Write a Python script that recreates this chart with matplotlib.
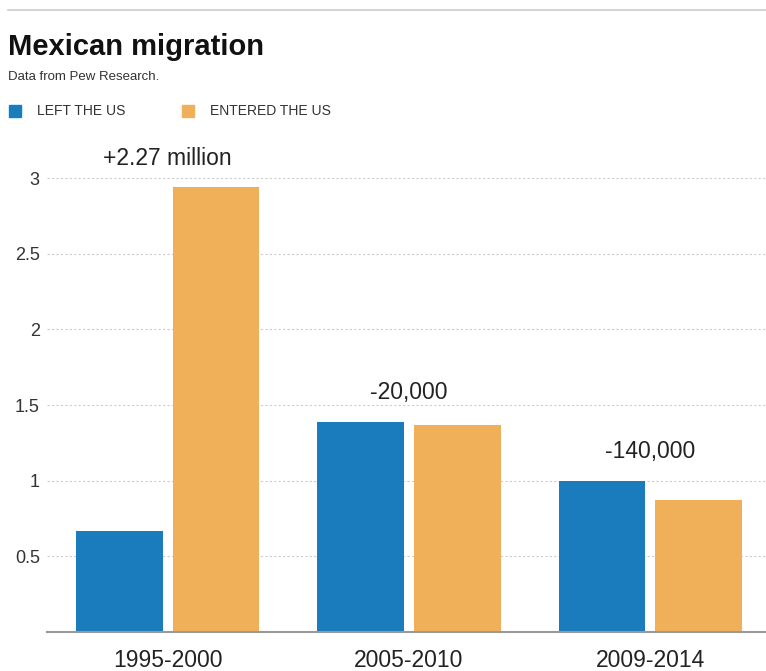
import matplotlib.pyplot as plt
import numpy as np

periods = ['1995-2000', '2005-2010', '2009-2014']
left_us = [0.67, 1.39, 1.00]
entered_us = [2.94, 1.37, 0.87]
net_labels = ['+2.27 million', '-20,000', '-140,000']

blue = '#1a7bbd'
orange = '#f0b05a'
plt.rcParams['font.family'] = ['Liberation Sans', 'DejaVu Sans']

fig = plt.figure(figsize=(7.66, 6.71), dpi=100)
ax = fig.add_axes([0.061, 0.058, 0.939, 0.733])

x = np.arange(len(periods))
w = 0.36
ax.bar(x - 0.2, left_us, width=w, color=blue, zorder=2)
ax.bar(x + 0.2, entered_us, width=w, color=orange, zorder=2)

for i, lab in enumerate(net_labels):
    top = max(left_us[i], entered_us[i])
    ax.text(x[i], top + 0.19, lab, ha='center', va='center', fontsize=16.5, color='#222222')

ax.set_xlim(-0.502, 2.48)
ax.set_ylim(0, 3.25)
ax.set_yticks([0.5, 1, 1.5, 2, 2.5, 3])
ax.set_yticklabels(['0.5', '1', '1.5', '2', '2.5', '3'])
ax.set_xticks(x)
ax.set_xticklabels(periods, fontsize=16.5, color='#222222')
ax.tick_params(axis='y', length=0, labelsize=13, labelcolor='#333333', pad=5)
ax.tick_params(axis='x', length=0, pad=12)
ax.grid(axis='y', linestyle=(0, (2, 2)), color='#cccccc', linewidth=0.8, zorder=0)
for s in ['top', 'right', 'left']:
    ax.spines[s].set_visible(False)
ax.spines['bottom'].set_color('#999999')
ax.spines['bottom'].set_linewidth(1.5)

# header
fig.add_artist(plt.Line2D([0.01, 1.0], [0.985, 0.985], color='#cccccc', linewidth=1.2))
fig.text(0.011, 0.93, 'Mexican migration', fontsize=21, fontweight='bold',
         va='center', color='#111111')
fig.text(0.011, 0.885, 'Data from Pew Research.', fontsize=9.5,
         va='center', color='#333333')
fig.patches.append(plt.Rectangle((0.012, 0.826), 0.015, 0.018, color=blue,
                                 transform=fig.transFigure, figure=fig))
fig.text(0.048, 0.835, 'LEFT THE US', fontsize=10, va='center', color='#333333')
fig.patches.append(plt.Rectangle((0.238, 0.826), 0.015, 0.018, color=orange,
                                 transform=fig.transFigure, figure=fig))
fig.text(0.274, 0.835, 'ENTERED THE US', fontsize=10, va='center', color='#333333')

fig.savefig('out.png', dpi=100)
